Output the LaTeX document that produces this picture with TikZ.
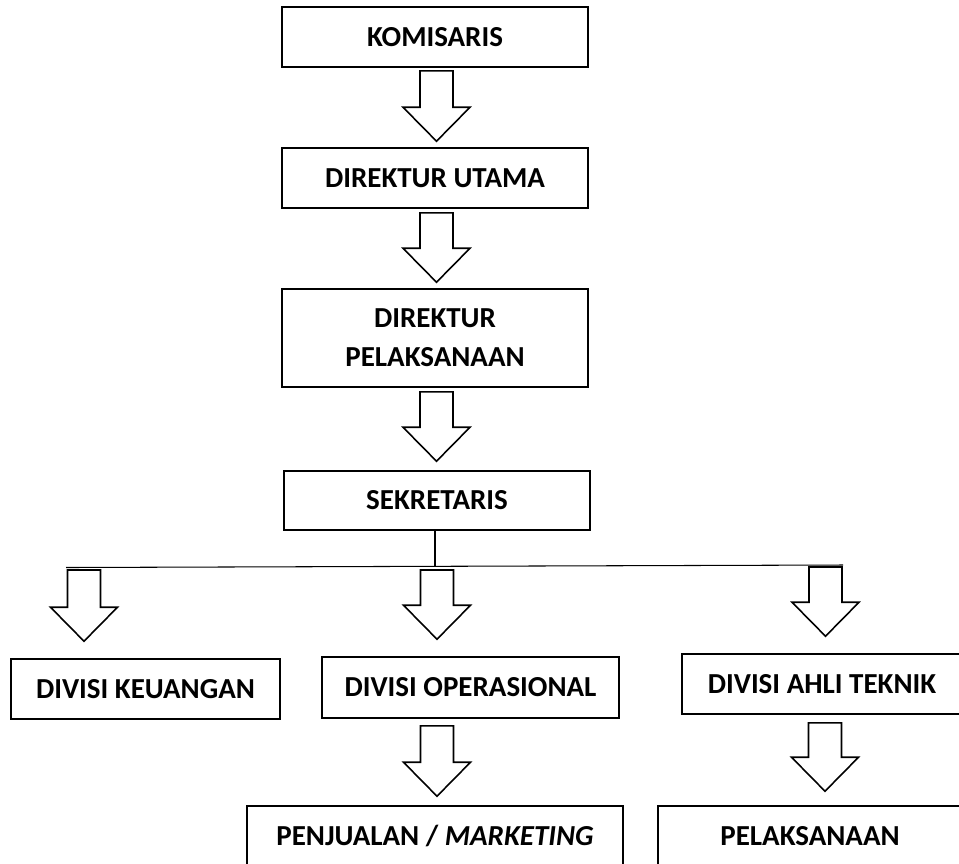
\documentclass[tikz,border=0pt]{standalone}
\usepackage{fontspec}
\setmainfont{Carlito}
\usetikzlibrary{calc,positioning}

\begin{document}
\begin{tikzpicture}[
    x=0.02cm, y=-0.02cm,
    % --- global styles ---
    box/.style={draw, line width=0.9pt, rectangle, inner sep=0pt, align=center,
                font=\bfseries\fontsize{16.5}{22}\selectfont},
    % hollow block arrow (outline only)
    hollow arrow/.style={draw, line width=0.9pt, fill=white, line join=miter},
    % thin branch line under the secretary
    bus line/.style={line width=0.6pt}
]
    \useasboundingbox (0,0) rectangle (959,863);
    \clip (0,0) rectangle (959,863);

    % --- 1. main column ---
    \node[box, minimum width=6.12cm, minimum height=1.2cm] (kom) at (435,37) {KOMISARIS};
    \node[box, minimum width=6.12cm, minimum height=1.2cm] (dirut) at (435,178) {DIREKTUR UTAMA};
    \node[box, minimum width=6.12cm, minimum height=1.96cm] (dirpel) at (435,338) {DIREKTUR\\PELAKSANAAN};
    \node[box, minimum width=6.12cm, minimum height=1.18cm] (sek) at (437,500.5) {SEKRETARIS};

    % --- 2. divisions ---
    \node[box, minimum width=5.38cm, minimum height=1.2cm] (keu) at (145.5,689) {DIVISI KEUANGAN};
    \node[box, minimum width=5.94cm, minimum height=1.22cm] (ops) at (470.5,687.5) {DIVISI OPERASIONAL};
    \node[box, minimum width=5.6cm, minimum height=1.2cm] (ahli) at (822,684) {DIVISI AHLI TEKNIK};

    % --- 3. bottom row ---
    \node[box, minimum width=7.52cm, minimum height=1.2cm] (penj) at (435,836) {PENJUALAN / \textit{MARKETING}};
    \node[box, minimum width=6.08cm, minimum height=1.2cm] (pel) at (810,836) {PELAKSANAAN};

    % --- 4. key coordinates ---
    % [main column arrows: shaft top under a box, tip above the next box]
    \coordinate (a1top) at ($(kom.south)+(1.5,3)$);
    \coordinate (a1tip) at ($(dirut.north)+(1.5,-6)$);
    \coordinate (a2top) at ($(dirut.south)+(1.5,4)$);
    \coordinate (a2tip) at ($(dirpel.north)+(1.5,-6)$);
    \coordinate (a3top) at ($(dirpel.south)+(1.5,4)$);
    \coordinate (a3tip) at ($(sek.north)+(-0.5,-9)$);

    % [branch line and its three arrows]
    \coordinate (busL) at (66,567.5);
    \coordinate (busR) at (843,565);
    \coordinate (b1top) at (84,570);
    \coordinate (b1tip) at ($(b1top |- keu.north)+(0,-17)$);
    \coordinate (b2top) at (437,570);
    \coordinate (b2tip) at ($(b2top |- ops.north)+(0,-17)$);
    \coordinate (b3top) at (825.5,567);
    \coordinate (b3tip) at ($(b3top |- ahli.north)+(0,-17)$);

    % [lower arrows]
    \coordinate (c1top) at ($(437,0 |- ops.south)+(0,7)$);
    \coordinate (c1tip) at ($(c1top |- penj.north)+(0,-9)$);
    \coordinate (c2top) at ($(825,0 |- ahli.south)+(0,8)$);
    \coordinate (c2tip) at ($(c2top |- pel.north)+(0,-14)$);

    % --- 5. lines ---
    \draw[bus line] (sek.south -| 435,0) -- (435,566);
    \draw[bus line] (busL) -- (busR);

    % --- 6. hollow arrows ---
    \foreach \s/\t in {a1top/a1tip, a2top/a2tip, a3top/a3tip,
                       b1top/b1tip, b2top/b2tip, b3top/b3tip,
                       c1top/c1tip, c2top/c2tip}{
        \draw[hollow arrow] ($(\s)+(-16.5,0)$) -- ($(\s)+(16.5,0)$)
            -- ($(\s |- \t)+(16.5,-34)$) -- ($(\s |- \t)+(33.5,-34)$)
            -- (\s |- \t)
            -- ($(\s |- \t)+(-33.5,-34)$) -- ($(\s |- \t)+(-16.5,-34)$) -- cycle;
    }

\end{tikzpicture}
\end{document}
